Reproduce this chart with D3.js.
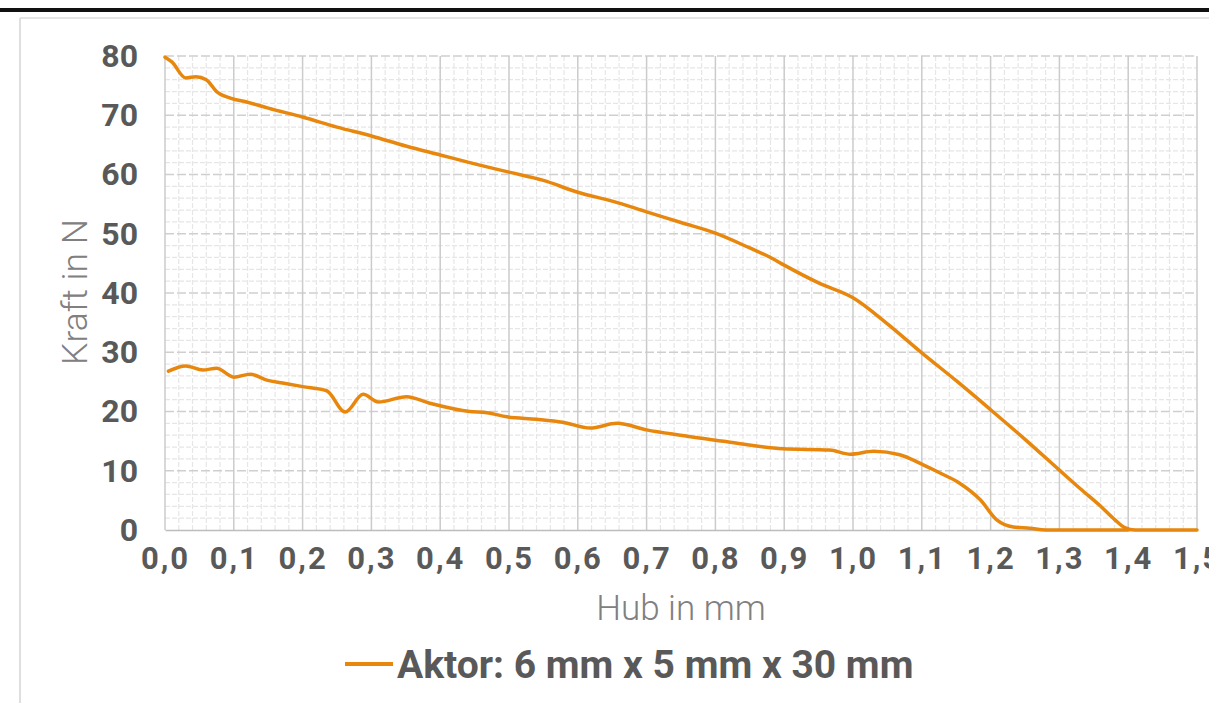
<!DOCTYPE html>
<html>
<head>
<meta charset="utf-8">
<script src="https://cdn.jsdelivr.net/npm/d3@7"></script>
<style>
  body { margin: 0; background: #fff; }
  svg { display: block; font-family: Roboto, "Noto Sans", sans-serif; }
</style>
</head>
<body>
<svg width="1209" height="703"></svg>
<script>
// Kraft-Hub curve of the actuator
var upperHub = [0, 0.01, 0.03, 0.045, 0.06, 0.075, 0.095, 0.12, 0.15, 0.2, 0.25, 0.3, 0.35, 0.4, 0.45, 0.5, 0.55, 0.6, 0.65, 0.7, 0.75, 0.8, 0.85, 0.88, 0.9, 0.95, 1.0, 1.05, 1.1, 1.15, 1.2, 1.25, 1.3, 1.33, 1.36, 1.38, 1.395, 1.41, 1.45, 1.5];
var upperForce = [79.8, 79, 76.3, 76.5, 76, 74, 72.9, 72.2, 71.2, 69.7, 68, 66.5, 64.8, 63.3, 61.8, 60.4, 59, 57, 55.5, 53.7, 51.9, 50.1, 47.6, 46, 44.7, 41.7, 39.2, 34.8, 29.9, 25.2, 20.3, 15.3, 10.1, 7, 4, 1.8, 0.4, 0, 0, 0];

var lowerHub = [0.005, 0.03, 0.055, 0.075, 0.1, 0.124, 0.148, 0.171, 0.2, 0.235, 0.262, 0.288, 0.31, 0.351, 0.385, 0.443, 0.468, 0.497, 0.54, 0.578, 0.618, 0.657, 0.7, 0.749, 0.817, 0.898, 0.966, 0.996, 1.03, 1.068, 1.097, 1.125, 1.155, 1.185, 1.209, 1.233, 1.257, 1.28, 1.4];
var lowerForce = [26.8, 27.7, 27.0, 27.3, 25.8, 26.3, 25.3, 24.8, 24.2, 23.5, 19.9, 22.9, 21.6, 22.5, 21.4, 20.0, 19.8, 19.1, 18.7, 18.2, 17.2, 18.0, 16.9, 16.0, 14.9, 13.7, 13.5, 12.8, 13.3, 12.7, 11.3, 9.7, 7.9, 5.1, 1.7, 0.5, 0.3, 0, 0];

var xTicks = [0, 0.1, 0.2, 0.3, 0.4, 0.5, 0.6, 0.7, 0.8, 0.9, 1.0, 1.1, 1.2, 1.3, 1.4, 1.5];
var yTicks = [0, 10, 20, 30, 40, 50, 60, 70, 80];
var legendLabel = 'Aktor: 6 mm x 5 mm x 30 mm';

var orange = '#e8870e';
var svg = d3.select('svg');

// page frame of the screenshot
svg.append('rect').attr('x', 0).attr('y', 8).attr('width', 1209).attr('height', 4).attr('fill', '#111');
svg.append('line').attr('x1', 20).attr('x2', 1209).attr('y1', 18).attr('y2', 18)
    .attr('stroke', '#ddd').attr('stroke-width', 1.5);
svg.append('line').attr('x1', 20).attr('x2', 20).attr('y1', 18).attr('y2', 703)
    .attr('stroke', '#d4d4d4').attr('stroke-width', 1.5);

var x = d3.scaleLinear().domain([0, 1.5]).range([165, 1197]);
var y = d3.scaleLinear().domain([0, 80]).range([530, 56]);

var grid = svg.append('g');

// minor grid
grid.selectAll('.minor-x')
    .data(d3.range(0, 76).map(i => i * 0.02).filter(v => Math.round(v * 50) % 5 !== 0))
    .enter().append('line')
    .attr('x1', d => x(d)).attr('x2', d => x(d))
    .attr('y1', y(80)).attr('y2', y(0))
    .attr('stroke', '#e6e6e6').attr('stroke-width', 1.2)
    .attr('stroke-dasharray', '5,2');

grid.selectAll('.minor-y')
    .data(d3.range(0, 41).map(i => i * 2).filter(v => v % 10 !== 0))
    .enter().append('line')
    .attr('x1', x(0)).attr('x2', x(1.5))
    .attr('y1', d => y(d)).attr('y2', d => y(d))
    .attr('stroke', '#e6e6e6').attr('stroke-width', 1.2)
    .attr('stroke-dasharray', '5,2');

// major grid
grid.selectAll('.major-y')
    .data(yTicks.filter(d => d > 0))
    .enter().append('line')
    .attr('x1', x(0)).attr('x2', x(1.5))
    .attr('y1', d => y(d)).attr('y2', d => y(d))
    .attr('stroke', '#cfcfcf').attr('stroke-width', 1.5)
    .attr('stroke-dasharray', '9,3');

grid.selectAll('.major-x')
    .data(xTicks)
    .enter().append('line')
    .attr('x1', d => x(d)).attr('x2', d => x(d))
    .attr('y1', y(80)).attr('y2', y(0))
    .attr('stroke', '#cbcbcb').attr('stroke-width', 1.5);

// axes
var fmt = d => d3.format('.1f')(d).replace('.', ',');

var xAxis = svg.append('g')
    .attr('transform', 'translate(0,' + y(0) + ')')
    .call(d3.axisBottom(x).tickValues(xTicks).tickFormat(fmt).tickSize(0).tickPadding(17));
xAxis.select('.domain').attr('stroke', '#bdbdbd').attr('stroke-width', 1.5);
xAxis.selectAll('text')
    .attr('fill', '#595959').attr('font-size', 31).attr('font-weight', 'bold')
    .attr('font-family', 'Roboto, sans-serif').style('letter-spacing', '2px');

var yAxis = svg.append('g')
    .attr('transform', 'translate(' + x(0) + ',0)')
    .call(d3.axisLeft(y).tickValues(yTicks).tickSize(0).tickPadding(27));
yAxis.select('.domain').remove();
yAxis.selectAll('text')
    .attr('fill', '#595959').attr('font-size', 32).attr('font-weight', 'bold')
    .attr('font-family', 'Roboto, sans-serif');

// axis titles
svg.append('text')
    .attr('transform', 'translate(87,' + 292 + ') rotate(-90)')
    .attr('text-anchor', 'middle')
    .attr('fill', '#808080').attr('font-size', 35.5).attr('font-weight', 300)
    .text('Kraft in N');

svg.append('text')
    .attr('x', (x(0) + x(1.5)) / 2).attr('y', 620)
    .attr('text-anchor', 'middle')
    .attr('fill', '#808080').attr('font-size', 35).attr('font-weight', 300)
    .text('Hub in mm');

// curves
var line = d3.line()
    .x(d => x(d[0]))
    .y(d => y(d[1]))
    .curve(d3.curveMonotoneX);

var series = [d3.zip(upperHub, upperForce), d3.zip(lowerHub, lowerForce)];

svg.selectAll('.curve')
    .data(series)
    .enter().append('path')
    .attr('d', line)
    .attr('fill', 'none')
    .attr('stroke', orange)
    .attr('stroke-width', 3.5)
    .attr('stroke-linejoin', 'round')
    .attr('stroke-linecap', 'round');

// legend
svg.append('line')
    .attr('x1', 345).attr('x2', 393).attr('y1', 664).attr('y2', 664)
    .attr('stroke', orange).attr('stroke-width', 4);
svg.append('text')
    .attr('x', 397).attr('y', 678)
    .attr('fill', '#595959').attr('font-size', 39).attr('font-weight', 'bold')
    .text(legendLabel);
</script>
</body>
</html>
